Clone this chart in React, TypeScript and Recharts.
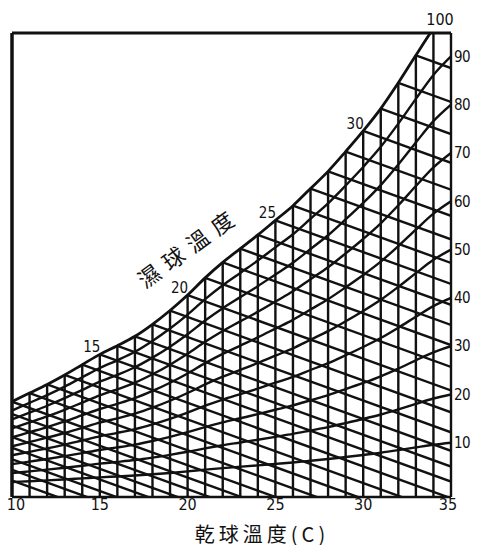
import {
  ComposedChart,
  Customized,
  Line,
  ReferenceDot,
  ReferenceLine,
  XAxis,
  YAxis,
} from 'recharts';

// dry-bulb temperature (C), one vertical rule per degree
const dryBulb = [
  10, 11, 12, 13, 14, 15, 16, 17, 18, 19, 20, 21, 22, 23, 24, 25, 26, 27, 28, 29, 30, 31, 32, 33,
  34, 35,
];
// saturation (100%) curve, same order as dryBulb
const saturation = [
  10.4, 11.4, 12.4, 13.5, 14.7, 15.9, 16.9, 18.0, 19.4, 21.0, 22.8, 24.8, 26.6, 28.2, 29.8, 31.5,
  33.2, 35.2, 37.2, 39.5, 41.9, 44.5, 47.5, 50.7, 53.8, 56.2,
];
// wet-bulb lines that enter from the left edge (wet bulb 3..9 C)
const lowWetBulb = [3, 4, 5, 6, 7, 8, 9];
const lowSaturation = [6.4, 6.9, 7.4, 8.0, 8.5, 9.1, 9.7];
// wet-bulb lines starting on the curve
const wetBulb = [
  10, 11, 12, 13, 14, 15, 16, 17, 18, 19, 20, 21, 22, 23, 24, 25, 26, 27, 28, 29, 30, 31, 32, 33,
];
const wetBulbSlope = 0.74;
const rhLevels = [10, 20, 30, 40, 50, 60, 70, 80, 90];
const xTicks = [10, 15, 20, 25, 30, 35];
const curveLabels = [15, 20, 25, 30];

const E_TOP = 53.3;
const E_BOTTOM = -0.7;
const INK = '#111';
const RULE = 2.4;
const NUM_FONT = '"DejaVu Sans Condensed", "DejaVu Sans", sans-serif';
const CJK_FONT = '"Noto Sans CJK TC", "Noto Sans CJK SC", sans-serif';

const satAt = (t: number) =>
  t >= 10 ? saturation[t - 10] : lowSaturation[lowWetBulb.indexOf(t)];
const sat35 = saturation[saturation.length - 1];

const rows = dryBulb.map((t, i) => {
  const row: Record<string, number> = { t, sat: saturation[i] };
  for (const r of rhLevels) row[`rh${r}`] = (saturation[i] * r) / 100;
  return row;
});

const wetLines = [...lowWetBulb, ...wetBulb].map((tw) => ({
  tw,
  data: [
    { t: tw, e: satAt(tw) },
    { t: 35, e: satAt(tw) - wetBulbSlope * (35 - tw) },
  ],
}));

function CurveTag({ viewBox, value }: any) {
  if (!viewBox) return null;
  return (
    <text
      x={viewBox.x + viewBox.width / 2 - 8}
      y={viewBox.y + viewBox.height / 2 - 7}
      textAnchor="middle"
      dominantBaseline="central"
      fontSize={15}
      fontFamily={NUM_FONT}
      fill={INK}
    >
      {value}
    </text>
  );
}

// bottom tick; the end ones sit a little inside the frame like the print
function DryTick({ x, y, payload }: any) {
  const shift = payload.value === 10 ? 4 : payload.value === 35 ? -3 : 0;
  return (
    <text
      x={x + shift}
      y={y + 7}
      textAnchor="middle"
      dominantBaseline="central"
      fontSize={16}
      fontFamily={NUM_FONT}
      fill={INK}
    >
      {payload.value}
    </text>
  );
}

function Captions() {
  return (
    <g>
      <text
        x={188}
        y={246}
        textAnchor="middle"
        dominantBaseline="central"
        fontSize={22}
        letterSpacing={8}
        fontFamily={CJK_FONT}
        fill={INK}
        transform="rotate(-36, 188, 246)"
      >
        濕球溫度
      </text>
      <text
        x={262}
        y={533}
        textAnchor="middle"
        dominantBaseline="central"
        fontSize={20}
        letterSpacing={4}
        fontFamily={CJK_FONT}
        fill={INK}
      >
        乾球溫度(C)
      </text>
      <text
        x={440}
        y={19}
        textAnchor="middle"
        dominantBaseline="central"
        fontSize={16}
        fontFamily={NUM_FONT}
        fill={INK}
      >
        100
      </text>
    </g>
  );
}

export default function App() {
  return (
    <div style={{ width: 479, height: 553, margin: -8, background: '#fff' }}>
      <ComposedChart
        width={479}
        height={553}
        data={rows}
        margin={{ top: 33, right: 0, bottom: 0, left: 12 }}
      >
        <XAxis
          type="number"
          dataKey="t"
          domain={[10, 35]}
          ticks={xTicks}
          interval={0}
          allowDataOverflow
          height={56}
          tickLine={false}
          tickSize={0}
          tickMargin={0}
          axisLine={{ stroke: INK, strokeWidth: RULE }}
          tick={<DryTick />}
        />
        <YAxis
          orientation="right"
          type="number"
          domain={[E_BOTTOM, E_TOP]}
          allowDataOverflow
          ticks={rhLevels.map((r) => (r * sat35) / 100)}
          tickFormatter={(v: number) => String(Math.round((v / sat35) * 100))}
          interval={0}
          width={28}
          tickLine={false}
          tickSize={2}
          tickMargin={1}
          axisLine={{ stroke: INK, strokeWidth: RULE }}
          tick={{
            fontSize: 15,
            fill: INK,
            fontFamily: NUM_FONT,
            textAnchor: 'start',
            letterSpacing: -0.5,
          }}
        />

        {/* dry-bulb verticals, up to the saturation curve */}
        {dryBulb.slice(1, -1).map((t, i) => (
          <ReferenceLine
            key={`v${t}`}
            segment={[
              { x: t, y: E_BOTTOM },
              { x: t, y: Math.min(saturation[i + 1], E_TOP) },
            ]}
            stroke={INK}
            strokeWidth={RULE}
          />
        ))}

        {/* relative humidity curves */}
        {rhLevels.map((r) => (
          <Line
            key={`rh${r}`}
            type="monotone"
            dataKey={`rh${r}`}
            stroke={INK}
            strokeWidth={RULE}
            dot={false}
            activeDot={false}
            isAnimationActive={false}
          />
        ))}

        {/* wet-bulb lines */}
        {wetLines.map((w) => (
          <Line
            key={`wb${w.tw}`}
            data={w.data}
            dataKey="e"
            type="linear"
            stroke={INK}
            strokeWidth={RULE}
            dot={false}
            activeDot={false}
            isAnimationActive={false}
          />
        ))}

        {/* saturation curve */}
        <Line
          type="monotone"
          dataKey="sat"
          stroke={INK}
          strokeWidth={2.8}
          dot={false}
          activeDot={false}
          isAnimationActive={false}
        />

        <ReferenceLine x={10} stroke={INK} strokeWidth={3.5} />
        <ReferenceLine y={E_TOP} stroke={INK} strokeWidth={2.8} />

        {curveLabels.map((t) => (
          <ReferenceDot
            key={`lbl${t}`}
            x={t}
            y={satAt(t)}
            r={1}
            fill="none"
            stroke="none"
            label={<CurveTag value={String(t)} />}
          />
        ))}

        <Customized component={Captions} />
      </ComposedChart>
    </div>
  );
}
